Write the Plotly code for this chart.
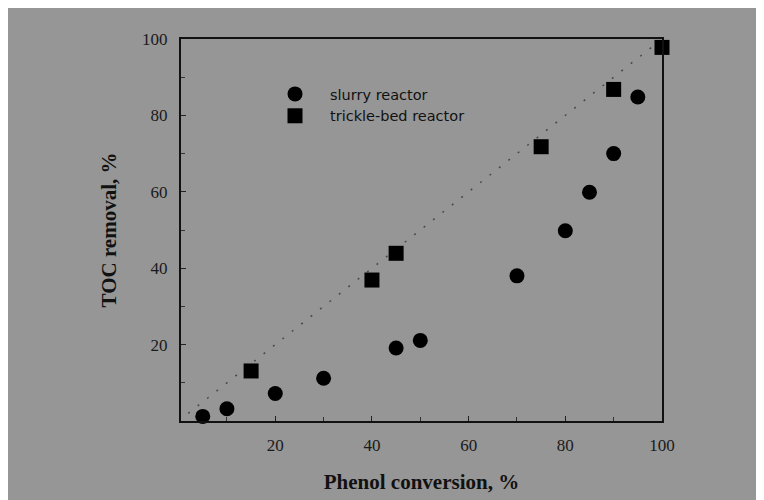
import plotly.graph_objects as go

# Data
slurry_x = [5, 10, 20, 30, 45, 50, 70, 80, 85, 90, 95]
slurry_y = [1.2, 3.2, 7.2, 11.2, 19.1, 21.1, 38.0, 49.8, 59.9, 70.0, 84.8]
trickle_x = [15, 40, 45, 75, 90, 100]
trickle_y = [13.1, 36.9, 43.9, 71.8, 86.8, 97.8]
diag_x = [2, 98]
diag_y = [2, 98]
x_ticks = [20, 40, 60, 80, 100]
y_ticks = [20, 40, 60, 80, 100]

W, H = 764, 500
L, R, T, B = 173, 110, 31, 87
pw, ph = W - L - R, H - T - B

def px_x(p):
    return (p - L) / pw

def px_y(p):
    return 1 - (p - T) / ph

fig = go.Figure()
fig.add_trace(go.Scatter(x=diag_x, y=diag_y, mode="lines", showlegend=False,
                         line=dict(color="#4a4a4a", width=1.5, dash="2px,10px"),
                         hoverinfo="skip"))
fig.add_trace(go.Scatter(x=slurry_x, y=slurry_y, mode="markers", name="slurry reactor",
                         cliponaxis=False,
                         marker=dict(symbol="circle", size=15, color="#000000")))
fig.add_trace(go.Scatter(x=trickle_x, y=trickle_y, mode="markers", name="trickle-bed reactor",
                         cliponaxis=False,
                         marker=dict(symbol="square", size=15, color="#000000")))

axis_common = dict(showline=True, linecolor="#111111", linewidth=2, mirror=True,
                   showgrid=False, zeroline=False, ticks="inside", ticklen=5,
                   tickwidth=1, tickcolor="#222222",
                   tickfont=dict(family="Liberation Serif", size=17, color="#1a1a1a"),
                   minor=dict(ticks="inside", dtick=10, ticklen=4, tickcolor="#333333",
                              tickwidth=1))

fig.update_xaxes(range=[0.5, 100], tickvals=x_ticks, ticklabelstandoff=8,
                 title=dict(text="Phenol conversion, %", standoff=20,
                            font=dict(family="Liberation Serif", size=21, color="#111111",
                                      weight="bold")),
                 **axis_common)
fig.update_yaxes(range=[0, 100], tickvals=y_ticks, ticklabelstandoff=8,
                 title=dict(text="TOC removal, %", standoff=20,
                            font=dict(family="Liberation Serif", size=21, color="#111111",
                                      weight="bold")),
                 **axis_common)

fig.update_layout(
    width=W, height=H,
    margin=dict(l=L, r=R, t=T, b=B, autoexpand=False),
    paper_bgcolor="#969696", plot_bgcolor="#969696",
    legend=dict(x=px_x(252), y=px_y(70), xanchor="left", yanchor="top",
                bgcolor="rgba(0,0,0,0)", itemwidth=60,
                font=dict(family="DejaVu Sans", size=14.5, color="#111111")),
)

fig.write_html("out.html")
